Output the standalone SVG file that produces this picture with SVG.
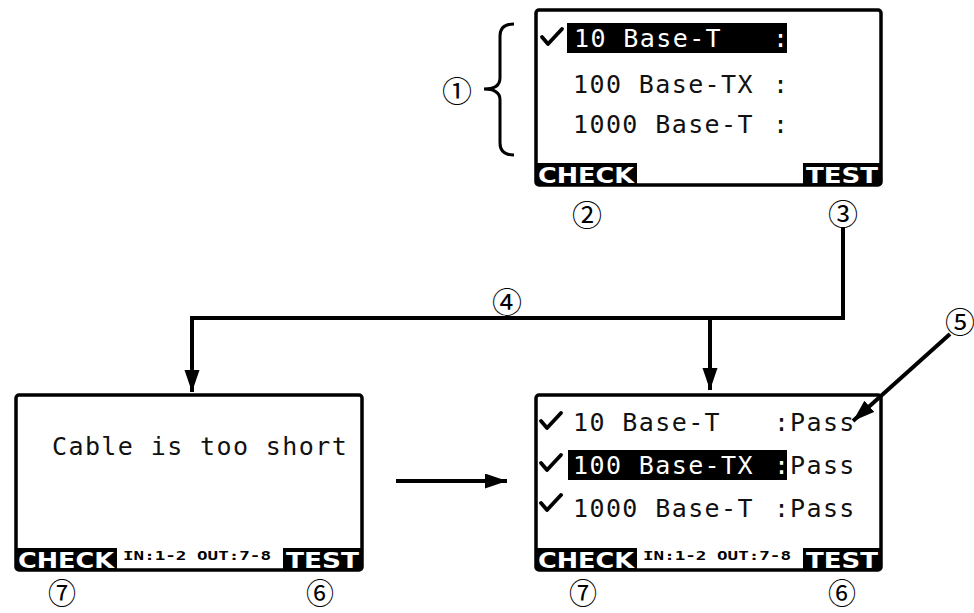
<svg xmlns="http://www.w3.org/2000/svg" width="974" height="613" viewBox="0 0 974 613">
<style>
.frame{fill:#fff;stroke:#000;stroke-width:3.5}
.lcd{font-family:"DejaVu Sans Mono","Liberation Mono",monospace;font-size:25px;letter-spacing:1.4px;fill:#111}
.inv{fill:#fff}
.key{font-family:"DejaVu Sans","Liberation Sans",sans-serif;font-weight:bold;font-size:22px;fill:#fff}
.small{font-family:"DejaVu Sans Mono","Liberation Mono",monospace;font-weight:bold;font-size:12px;fill:#000}
.num{font-family:"Noto Sans CJK JP","DejaVu Sans",sans-serif;font-size:30px;fill:#000;text-anchor:middle;dominant-baseline:central}
.numb{font-size:28px}
.chk{fill:none;stroke:#000;stroke-width:3.8;stroke-linecap:round;stroke-linejoin:round}
.conn{fill:none;stroke:#000;stroke-width:4}
</style>
<defs>
<marker id="ah" markerUnits="userSpaceOnUse" markerWidth="24" markerHeight="16" refX="22" refY="7.5" orient="auto">
<path d="M0,0 L22,7.5 L0,15 z" fill="#000"/>
</marker>
</defs>

<g id="screen-top">
<rect class="frame" x="536" y="10" width="345" height="175" rx="3"/>
<path class="chk" d="M542,37 L548,44 L562,29"/>
<rect x="567" y="23" width="220" height="30" fill="#000"/>
<text class="lcd inv" x="574" y="47">10 Base-T</text>
<text class="lcd inv" x="773" y="47">:</text>
<text class="lcd" x="573" y="93">100 Base-TX</text>
<text class="lcd" x="773" y="93">:</text>
<text class="lcd" x="573" y="133">1000 Base-T</text>
<text class="lcd" x="773" y="133">:</text>
<rect x="536" y="163" width="101" height="22" fill="#000"/>
<text class="key" x="538" y="183" textLength="96" lengthAdjust="spacingAndGlyphs">CHECK</text>
<rect x="803" y="163" width="78" height="22" fill="#000"/>
<text class="key" x="806" y="183" textLength="72" lengthAdjust="spacingAndGlyphs">TEST</text>
</g>

<g id="screen-left">
<rect class="frame" x="16" y="395" width="346" height="175" rx="3"/>
<text class="lcd" x="52" y="455">Cable is too short</text>
<rect x="16" y="548" width="101" height="22" fill="#000"/>
<text class="key" x="18" y="568" textLength="96" lengthAdjust="spacingAndGlyphs">CHECK</text>
<text class="small" x="123" y="560" textLength="148" lengthAdjust="spacingAndGlyphs">IN:1-2 OUT:7-8</text>
<rect x="283" y="548" width="79" height="22" fill="#000"/>
<text class="key" x="286" y="568" textLength="73" lengthAdjust="spacingAndGlyphs">TEST</text>
</g>

<g id="screen-right">
<rect class="frame" x="536" y="395" width="345" height="175" rx="3"/>
<path class="chk" d="M541,421 L547,428 L561,413"/>
<text class="lcd" x="573" y="431">10 Base-T</text>
<text class="lcd" x="774" y="431">:</text>
<text class="lcd" x="790" y="431">Pass</text>
<path class="chk" d="M541,463 L547,470 L561,455"/>
<rect x="568" y="450" width="219" height="30" fill="#000"/>
<text class="lcd inv" x="573" y="474">100 Base-TX</text>
<text class="lcd inv" x="774" y="474">:</text>
<text class="lcd" x="790" y="474">Pass</text>
<path class="chk" d="M541,503 L547,510 L561,495"/>
<text class="lcd" x="573" y="517">1000 Base-T</text>
<text class="lcd" x="774" y="517">:</text>
<text class="lcd" x="790" y="517">Pass</text>
<rect x="536" y="548" width="101" height="22" fill="#000"/>
<text class="key" x="538" y="568" textLength="96" lengthAdjust="spacingAndGlyphs">CHECK</text>
<text class="small" x="643" y="560" textLength="148" lengthAdjust="spacingAndGlyphs">IN:1-2 OUT:7-8</text>
<rect x="803" y="548" width="78" height="22" fill="#000"/>
<text class="key" x="806" y="568" textLength="72" lengthAdjust="spacingAndGlyphs">TEST</text>
</g>

<g id="brace">
<path d="M514,24 Q500,24 500,36 V78 Q500,89 484,89 Q500,89 500,100 V143 Q500,155 514,155" fill="none" stroke="#000" stroke-width="3"/>
</g>

<g id="labels">
<text class="num" x="457" y="89">①</text>
<text class="num" x="587" y="213">②</text>
<text class="num" x="843" y="212">③</text>
<text class="num" x="507" y="300">④</text>
<text class="num" x="960" y="320">⑤</text>
<text class="num numb" x="320" y="592">⑥</text>
<text class="num numb" x="62" y="592">⑦</text>
<text class="num numb" x="842" y="592">⑥</text>
<text class="num numb" x="583" y="592">⑦</text>
</g>

<g id="connectors">
<path class="conn" d="M843,228 V318 H192 V392" marker-end="url(#ah)"/>
<path class="conn" d="M710,318 V390" marker-end="url(#ah)"/>
<path class="conn" d="M396,481 H507" marker-end="url(#ah)"/>
<path class="conn" d="M950,334 L853,421" marker-end="url(#ah)"/>
</g>
</svg>
